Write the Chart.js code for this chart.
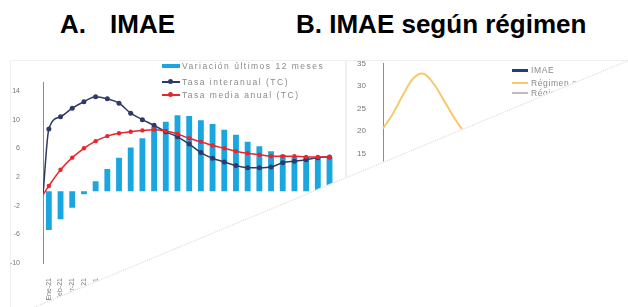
<!DOCTYPE html>
<html>
<head>
<meta charset="utf-8">
<script src="https://cdn.jsdelivr.net/npm/chart.js@4.4.1/dist/chart.umd.min.js"></script>
<style>
body { margin: 0; background: #fff; font-family: "Liberation Sans", Arial, sans-serif; }
#page { position: relative; width: 628px; height: 307px; overflow: hidden;
        clip-path: polygon(0 0, 628px 0, 628px 60px, 0 321px); }
.title { position: absolute; top: 11px; font-weight: bold; font-size: 26px; line-height: 26px; color: #000; white-space: pre; }
.frame { position: absolute; border: 1px solid #f0f0f0; }
.leg { position: absolute; font-size: 8.5px; line-height: 10px; color: #8a8a8a; letter-spacing: 1.5px; white-space: nowrap; }
.sym { position: absolute; }
.dot { position: absolute; border-radius: 50%; }
canvas { position: absolute; }
#cut { position: absolute; left: 0; top: 321px; width: 690px; height: 0; border-top: 1px dotted #d6d6d6;
       transform-origin: 0 0; transform: rotate(-22.56deg); }
</style>
</head>
<body>
<div id="page">
  <div class="title" style="left:60px">A.</div>
  <div class="title" style="left:110px">IMAE</div>
  <div class="title" style="left:296px">B. IMAE según régimen</div>

  <div class="frame" style="left:10px;top:60px;width:334px;height:260px"></div>
  <div class="frame" style="left:346px;top:60px;width:280px;height:260px"></div>

  <div style="position:absolute;left:0;top:60px;width:345px;height:247px"><canvas id="chartA" width="345" height="247"></canvas></div>
  <div style="position:absolute;left:345px;top:50px;width:283px;height:257px"><canvas id="chartB" width="283" height="257"></canvas></div>

  <!-- legend A -->
  <div class="sym" style="left:162px;top:64px;width:18px;height:4px;background:#1aa7e0"></div>
  <div class="leg" style="left:182px;top:61px">Variación últimos 12 meses</div>
  <div class="sym" style="left:162px;top:81px;width:18px;height:1.5px;background:#2f3a66"></div>
  <div class="dot" style="left:168px;top:79px;width:5px;height:5px;background:#2f3a66"></div>
  <div class="leg" style="left:182px;top:77px">Tasa interanual (TC)</div>
  <div class="sym" style="left:162px;top:94px;width:18px;height:1.5px;background:#e8262b"></div>
  <div class="dot" style="left:168px;top:92px;width:5px;height:5px;background:#e8262b"></div>
  <div class="leg" style="left:182px;top:90px">Tasa media anual (TC)</div>

  <!-- legend B -->
  <div class="sym" style="left:512px;top:69px;width:16px;height:3px;background:#1f3c88"></div>
  <div class="leg" style="left:531px;top:65px;letter-spacing:0.6px">IMAE</div>
  <div class="sym" style="left:512px;top:82px;width:16px;height:1.5px;background:#f6c969"></div>
  <div class="leg" style="left:531px;top:78px;letter-spacing:0.6px">Régimen especial</div>
  <div class="sym" style="left:512px;top:92px;width:16px;height:1.5px;background:#bdbdbd"></div>
  <div class="leg" style="left:531px;top:88px;letter-spacing:0.6px">Régimen definitivo</div>
</div>
<div id="cut"></div>

<script>
// ----------------- DATA -----------------
// panel A: months on the category axis
var labelsA = ["Ene-21", "Feb-21", "Mar-21", "Abr-21", "May-21", "Jun-21", "Jul-21", "Ago-21",
               "Set-21", "Oct-21", "Nov-21", "Dic-21", "Ene-22", "Feb-22", "Mar-22", "Abr-22",
               "May-22", "Jun-22", "Jul-22", "Ago-22", "Set-22", "Oct-22", "Nov-22", "Dic-22", "Ene-23"];
// Variación últimos 12 meses (bars)
var varDoce = [-5.4, -3.9, -2.3, -0.4, 1.4, 3.1, 4.7, 6.1, 7.4, 9.0, 9.7, 10.6, 10.5,
               9.9, 9.4, 8.6, 7.9, 6.9, 6.3, 5.6, 5.1, 4.9, 4.8, 4.7, 4.8];
// Tasa interanual (TC)
var tasaInter = [8.7, 10.4, 11.6, 12.5, 13.2, 12.9, 12.3, 10.9, 10.0, 9.2, 8.3, 7.6, 6.6,
                 5.4, 4.6, 4.1, 3.6, 3.3, 3.3, 3.4, 4.0, 4.2, 4.4, 4.7, 4.8];
// Tasa media anual (TC)
var tasaMedia = [0.75, 3.0, 4.7, 6.0, 7.0, 7.7, 8.1, 8.3, 8.5, 8.6, 8.4, 8.0, 7.4,
                 6.9, 6.4, 6.0, 5.6, 5.3, 5.1, 4.9, 4.9, 4.9, 4.8, 4.8, 4.8];
// value where both lines leave the y axis
var interStart = -0.5;
var mediaStart = -0.5;
var ticksA = [-10, -6, -2, 2, 6, 10, 14];

// panel B
var labelsB = ["Ene-21", "Feb-21", "Mar-21", "Abr-21", "May-21", "Jun-21", "Jul-21",
               "Ago-21", "Set-21", "Oct-21", "Nov-21", "Dic-21", "Ene-22"];
var regEspecial = [20.6, 24.0, 28.2, 31.8, 32.8, 30.5, 26.8, 23.0, 19.7, 16.5];

// ----------------- HELPERS -----------------
// put a series on the centre of each category slot of a linear axis
function toPoints(vals, start) {
    var pts = [];
    if (start !== undefined) pts.push({x: 0, y: start});
    for (var i = 0; i < vals.length; i++) {
        pts.push({x: i + 0.5, y: vals[i]});
    }
    return pts;
}

function firstHidden(n, r) {
    var radii = [0];
    for (var i = 0; i < n; i++) radii.push(r);
    return radii;
}

// ----------------- CHART A -----------------
new Chart(document.getElementById("chartA"), {
    type: 'bar',
    data: {
        datasets: [{
            type: 'line',
            label: 'Tasa media anual (TC)',
            data: toPoints(tasaMedia, mediaStart),
            borderColor: '#e8262b',
            backgroundColor: '#e8262b',
            borderWidth: 1.5,
            pointRadius: firstHidden(tasaMedia.length, 2.2),
            pointBorderWidth: 0,
            cubicInterpolationMode: 'monotone',
            order: 1
        }, {
            type: 'line',
            label: 'Tasa interanual (TC)',
            data: toPoints(tasaInter, interStart),
            borderColor: '#2f3a66',
            backgroundColor: '#2f3a66',
            borderWidth: 1.5,
            pointRadius: firstHidden(tasaInter.length, 2.5),
            pointBorderWidth: 0,
            cubicInterpolationMode: 'monotone',
            order: 2
        }, {
            label: 'Variación últimos 12 meses',
            data: toPoints(varDoce),
            backgroundColor: '#1aa7e0',
            barPercentage: 0.5,
            categoryPercentage: 1,
            order: 3
        }]
    },
    options: {
        responsive: false,
        animation: false,
        layout: {padding: {top: 22, right: 2, left: 0, bottom: 0}},
        plugins: {legend: {display: false}, tooltip: {enabled: false}},
        scales: {
            x: {
                type: 'linear',
                min: 0,
                max: labelsA.length,
                offset: false,
                grid: {display: false},
                border: {display: false},
                afterBuildTicks: function(scale) {
                    scale.ticks = labelsA.map(function(l, i) { return {value: i + 0.5}; });
                },
                afterFit: function(scale) { scale.height = 44; },
                ticks: {
                    autoSkip: false,
                    maxRotation: 90,
                    minRotation: 90,
                    padding: 7,
                    color: '#7a7a7a',
                    font: {family: 'Liberation Sans', size: 7},
                    callback: function(v) { return labelsA[Math.floor(v)]; }
                }
            },
            y: {
                min: -10,
                max: 15.25,
                grid: {display: false},
                border: {display: true, color: '#8c8c8c', width: 1},
                afterBuildTicks: function(scale) {
                    scale.ticks = ticksA.map(function(v) { return {value: v}; });
                },
                afterFit: function(scale) { scale.width = 43; },
                ticks: {
                    padding: 15,
                    color: '#777',
                    font: {family: 'Liberation Sans', size: 7}
                }
            }
        }
    }
});

// ----------------- CHART B -----------------
new Chart(document.getElementById("chartB"), {
    type: 'line',
    data: {
        labels: labelsB,
        datasets: [{
            label: 'Régimen especial',
            data: regEspecial,
            borderColor: '#f6c969',
            borderWidth: 2,
            pointRadius: 0,
            tension: 0.35
        }]
    },
    options: {
        responsive: false,
        animation: false,
        layout: {padding: {top: 5, right: 123, left: 0, bottom: 86}},
        plugins: {legend: {display: false}, tooltip: {enabled: false}},
        scales: {
            x: {display: false, offset: false},
            y: {
                min: 0,
                max: 35,
                grid: {display: false},
                border: {display: true, color: '#8c8c8c', width: 1},
                afterFit: function(scale) { scale.width = 38; },
                ticks: {
                    stepSize: 5,
                    padding: 9,
                    color: '#777',
                    font: {family: 'Liberation Sans', size: 8}
                }
            }
        }
    }
});
</script>
</body>
</html>
